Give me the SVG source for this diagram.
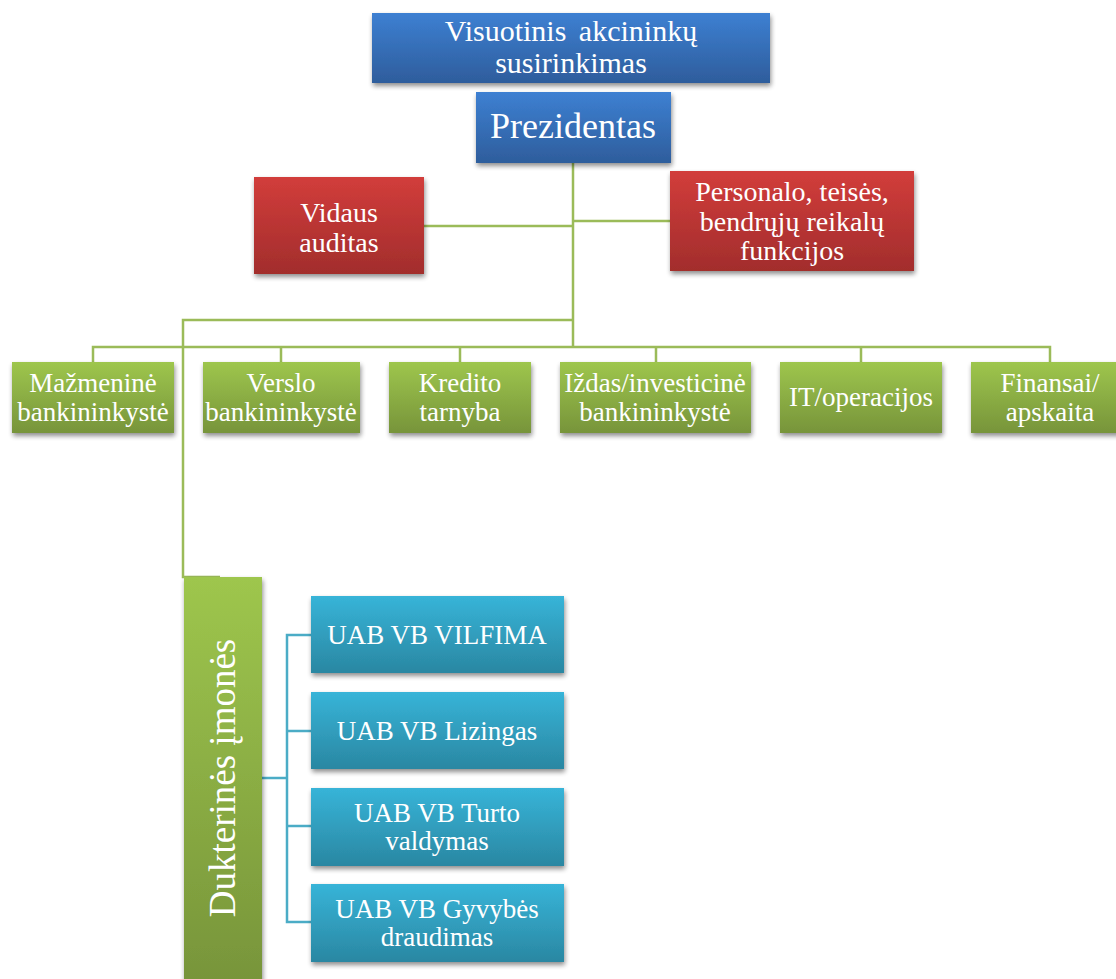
<svg xmlns="http://www.w3.org/2000/svg" width="1116" height="979" viewBox="0 0 1116 979">
  <defs>
    <linearGradient id="gBlue" x1="0" y1="0" x2="0" y2="1">
      <stop offset="0" stop-color="#3d80d2"/>
      <stop offset="1" stop-color="#2e5d9c"/>
    </linearGradient>
    <linearGradient id="gRed" x1="0" y1="0" x2="0" y2="1">
      <stop offset="0" stop-color="#d23d3b"/>
      <stop offset="1" stop-color="#a22d2c"/>
    </linearGradient>
    <linearGradient id="gGreen" x1="0" y1="0" x2="0" y2="1">
      <stop offset="0" stop-color="#9ec64d"/>
      <stop offset="1" stop-color="#77943a"/>
    </linearGradient>
    <linearGradient id="gCyan" x1="0" y1="0" x2="0" y2="1">
      <stop offset="0" stop-color="#37b4d8"/>
      <stop offset="1" stop-color="#2a87a2"/>
    </linearGradient>
    <filter id="shadow" x="-20%" y="-20%" width="140%" height="150%">
      <feGaussianBlur in="SourceAlpha" stdDeviation="2.5"/>
      <feOffset dx="1" dy="3" result="b"/>
      <feComponentTransfer><feFuncA type="linear" slope="0.45"/></feComponentTransfer>
      <feMerge><feMergeNode/><feMergeNode in="SourceGraphic"/></feMerge>
    </filter>
  </defs>
  <style>
    text { font-family: "Liberation Serif", "Times New Roman", serif; fill: #ffffff; text-anchor: middle; }
    .box { filter: url(#shadow); }
    .blue { fill: url(#gBlue); }
    .red { fill: url(#gRed); }
    .green { fill: url(#gGreen); }
    .cyan { fill: url(#gCyan); }
    .gl { stroke: #9bbb59; stroke-width: 2.5; fill: none; }
    .bl { stroke: #4bacc6; stroke-width: 2.5; fill: none; }
    .t27 { font-size: 27px; }
    .t28 { font-size: 28px; }
  </style>

  <rect width="1116" height="979" fill="#ffffff"/>

  <!-- connectors -->
  <g id="connectors">
    <path class="gl" d="M573 163 V347"/>
    <path class="gl" d="M424 226 H573"/>
    <path class="gl" d="M573 221 H670"/>
    <path class="gl" d="M573 320 H183 V577 H220"/>
    <path class="gl" d="M93 362 V347 H1050 V362"/>
    <path class="gl" d="M281 347 V362 M460 347 V362 M656 347 V362 M861 347 V362"/>
    <path class="bl" d="M262 778 H287"/>
    <path class="bl" d="M311 635 H287 V922 H311 M287 731 H311 M287 826 H311"/>
  </g>

  <!-- top level -->
  <g id="node-susirinkimas">
    <rect class="box blue" x="372" y="13" width="398" height="70"/>
    <text x="571" y="41" font-size="30" word-spacing="5">Visuotinis akcininkų</text>
    <text x="571" y="73" font-size="30">susirinkimas</text>
  </g>
  <g id="node-prezidentas">
    <rect class="box blue" x="476" y="92" width="195" height="71"/>
    <text x="573" y="138" font-size="36">Prezidentas</text>
  </g>

  <!-- staff functions -->
  <g id="node-vidaus-auditas">
    <rect class="box red" x="254" y="177" width="170" height="97"/>
    <text class="t28" x="339" y="222">Vidaus</text>
    <text class="t28" x="339" y="252">auditas</text>
  </g>
  <g id="node-personalo">
    <rect class="box red" x="670" y="171" width="244" height="100"/>
    <text class="t28" x="792" y="201">Personalo, teisės,</text>
    <text class="t28" x="792" y="231">bendrųjų reikalų</text>
    <text class="t28" x="792" y="260">funkcijos</text>
  </g>

  <!-- business units -->
  <g id="node-mazmenine">
    <rect class="box green" x="12" y="362" width="162" height="71"/>
    <text class="t27" x="93" y="392">Mažmeninė</text>
    <text class="t27" x="93" y="421">bankininkystė</text>
  </g>
  <g id="node-verslo">
    <rect class="box green" x="203" y="362" width="157" height="71"/>
    <text class="t27" x="281" y="392">Verslo</text>
    <text class="t27" x="281" y="421">bankininkystė</text>
  </g>
  <g id="node-kredito">
    <rect class="box green" x="389" y="362" width="142" height="71"/>
    <text class="t27" x="460" y="392">Kredito</text>
    <text class="t27" x="460" y="421">tarnyba</text>
  </g>
  <g id="node-izdas">
    <rect class="box green" x="560" y="362" width="191" height="71"/>
    <text class="t27" x="655" y="392">Iždas/investicinė</text>
    <text class="t27" x="655" y="421">bankininkystė</text>
  </g>
  <g id="node-it">
    <rect class="box green" x="780" y="362" width="162" height="71"/>
    <text class="t27" x="861" y="406">IT/operacijos</text>
  </g>
  <g id="node-finansai">
    <rect class="box green" x="971" y="362" width="150" height="71"/>
    <text class="t27" x="1050" y="392">Finansai/</text>
    <text class="t27" x="1050" y="421">apskaita</text>
  </g>

  <!-- subsidiaries -->
  <g id="node-dukterines">
    <rect class="box green" x="184" y="577" width="78" height="410"/>
    <text transform="translate(235 778) rotate(-90)" font-size="37">Dukterinės įmonės</text>
  </g>
  <g id="node-vilfima">
    <rect class="box cyan" x="311" y="596" width="253" height="77"/>
    <text class="t27" x="437" y="644">UAB VB VILFIMA</text>
  </g>
  <g id="node-lizingas">
    <rect class="box cyan" x="311" y="692" width="253" height="77"/>
    <text class="t27" x="437" y="740">UAB VB Lizingas</text>
  </g>
  <g id="node-turto">
    <rect class="box cyan" x="311" y="788" width="253" height="78"/>
    <text class="t27" x="437" y="822">UAB VB Turto</text>
    <text class="t27" x="437" y="850">valdymas</text>
  </g>
  <g id="node-gyvybes">
    <rect class="box cyan" x="311" y="884" width="253" height="78"/>
    <text class="t27" x="437" y="918">UAB VB Gyvybės</text>
    <text class="t27" x="437" y="946">draudimas</text>
  </g>
</svg>
